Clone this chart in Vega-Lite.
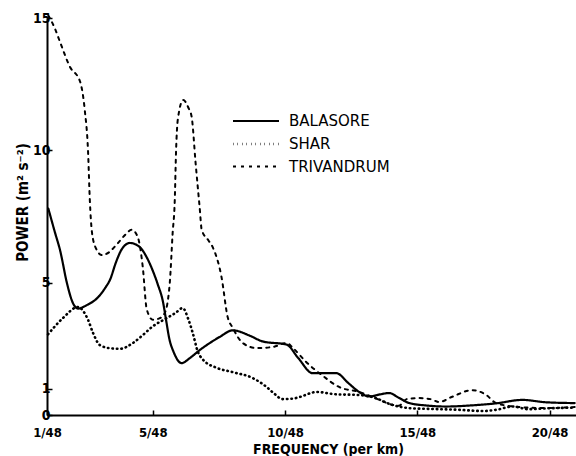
{
  "$schema": "https://vega.github.io/schema/vega-lite/v6.json",
  "width": 529,
  "height": 397,
  "autosize": "none",
  "padding": {"left": 47, "top": 18, "right": 0, "bottom": 41},
  "background": "white",
  "config": {
    "view": {"stroke": null},
    "font": "DejaVu Sans Condensed, DejaVu Sans",
    "axis": {"grid": false, "domainColor": "black", "domainWidth": 2, "tickColor": "black", "tickWidth": 1.5, "labelColor": "black", "titleColor": "black", "labelFont": "DejaVu Sans Condensed, DejaVu Sans", "titleFont": "DejaVu Sans Condensed, DejaVu Sans", "titleFontWeight": 600, "labelFontWeight": 600}
  },
  "data": {
    "values": [
      {"station": "BALASORE", "k": 1.05, "power": 7.8},
      {"station": "BALASORE", "k": 1.3, "power": 6.9},
      {"station": "BALASORE", "k": 1.5, "power": 6.2},
      {"station": "BALASORE", "k": 1.75, "power": 5.0},
      {"station": "BALASORE", "k": 1.95, "power": 4.3},
      {"station": "BALASORE", "k": 2.17, "power": 4.02},
      {"station": "BALASORE", "k": 2.5, "power": 4.15},
      {"station": "BALASORE", "k": 2.9, "power": 4.42},
      {"station": "BALASORE", "k": 3.2, "power": 4.8},
      {"station": "BALASORE", "k": 3.4, "power": 5.15},
      {"station": "BALASORE", "k": 3.6, "power": 5.75},
      {"station": "BALASORE", "k": 3.85, "power": 6.3},
      {"station": "BALASORE", "k": 4.13, "power": 6.5},
      {"station": "BALASORE", "k": 4.5, "power": 6.35},
      {"station": "BALASORE", "k": 4.8, "power": 5.9},
      {"station": "BALASORE", "k": 5.0, "power": 5.45},
      {"station": "BALASORE", "k": 5.2, "power": 4.9},
      {"station": "BALASORE", "k": 5.38, "power": 4.3},
      {"station": "BALASORE", "k": 5.5, "power": 3.6},
      {"station": "BALASORE", "k": 5.62, "power": 2.9},
      {"station": "BALASORE", "k": 5.8, "power": 2.35},
      {"station": "BALASORE", "k": 6.09, "power": 1.96},
      {"station": "BALASORE", "k": 6.4, "power": 2.15},
      {"station": "BALASORE", "k": 6.77, "power": 2.45},
      {"station": "BALASORE", "k": 7.2, "power": 2.75},
      {"station": "BALASORE", "k": 7.53, "power": 2.95},
      {"station": "BALASORE", "k": 8.02, "power": 3.2},
      {"station": "BALASORE", "k": 8.66, "power": 3.0},
      {"station": "BALASORE", "k": 9.15, "power": 2.78},
      {"station": "BALASORE", "k": 10.06, "power": 2.66},
      {"station": "BALASORE", "k": 10.5, "power": 2.15},
      {"station": "BALASORE", "k": 11.04, "power": 1.58},
      {"station": "BALASORE", "k": 11.94, "power": 1.58},
      {"station": "BALASORE", "k": 12.4, "power": 1.2},
      {"station": "BALASORE", "k": 12.8, "power": 0.87},
      {"station": "BALASORE", "k": 13.2, "power": 0.7},
      {"station": "BALASORE", "k": 13.6, "power": 0.78},
      {"station": "BALASORE", "k": 13.94, "power": 0.83},
      {"station": "BALASORE", "k": 14.3, "power": 0.65},
      {"station": "BALASORE", "k": 14.7, "power": 0.45},
      {"station": "BALASORE", "k": 15.34, "power": 0.36},
      {"station": "BALASORE", "k": 16.1, "power": 0.32},
      {"station": "BALASORE", "k": 17.0, "power": 0.36},
      {"station": "BALASORE", "k": 17.98, "power": 0.44},
      {"station": "BALASORE", "k": 18.97, "power": 0.57},
      {"station": "BALASORE", "k": 19.87, "power": 0.48},
      {"station": "BALASORE", "k": 20.95, "power": 0.45},

      {"station": "SHAR", "k": 1.04, "power": 3.05},
      {"station": "SHAR", "k": 1.6, "power": 3.66},
      {"station": "SHAR", "k": 2.17, "power": 4.08},
      {"station": "SHAR", "k": 2.55, "power": 3.6},
      {"station": "SHAR", "k": 2.74, "power": 3.1},
      {"station": "SHAR", "k": 3.0, "power": 2.64},
      {"station": "SHAR", "k": 3.4, "power": 2.52},
      {"station": "SHAR", "k": 3.75, "power": 2.5},
      {"station": "SHAR", "k": 4.25, "power": 2.72},
      {"station": "SHAR", "k": 4.6, "power": 3.0},
      {"station": "SHAR", "k": 5.0, "power": 3.35},
      {"station": "SHAR", "k": 5.53, "power": 3.66},
      {"station": "SHAR", "k": 5.85, "power": 3.85},
      {"station": "SHAR", "k": 6.13, "power": 4.04},
      {"station": "SHAR", "k": 6.35, "power": 3.6},
      {"station": "SHAR", "k": 6.51, "power": 3.1},
      {"station": "SHAR", "k": 6.7, "power": 2.4},
      {"station": "SHAR", "k": 6.89, "power": 2.1},
      {"station": "SHAR", "k": 7.42, "power": 1.78},
      {"station": "SHAR", "k": 8.02, "power": 1.62},
      {"station": "SHAR", "k": 8.77, "power": 1.4},
      {"station": "SHAR", "k": 9.3, "power": 1.06},
      {"station": "SHAR", "k": 9.6, "power": 0.8},
      {"station": "SHAR", "k": 9.9, "power": 0.6},
      {"station": "SHAR", "k": 10.3, "power": 0.62},
      {"station": "SHAR", "k": 10.55, "power": 0.68},
      {"station": "SHAR", "k": 11.19, "power": 0.87},
      {"station": "SHAR", "k": 11.94, "power": 0.78},
      {"station": "SHAR", "k": 12.7, "power": 0.76},
      {"station": "SHAR", "k": 13.3, "power": 0.68},
      {"station": "SHAR", "k": 14.06, "power": 0.38},
      {"station": "SHAR", "k": 14.8, "power": 0.25},
      {"station": "SHAR", "k": 15.5, "power": 0.23},
      {"station": "SHAR", "k": 16.5, "power": 0.2},
      {"station": "SHAR", "k": 17.5, "power": 0.15},
      {"station": "SHAR", "k": 18.0, "power": 0.2},
      {"station": "SHAR", "k": 18.6, "power": 0.32},
      {"station": "SHAR", "k": 19.2, "power": 0.22},
      {"station": "SHAR", "k": 19.9, "power": 0.25},
      {"station": "SHAR", "k": 20.95, "power": 0.28},

      {"station": "TRIVANDRUM", "k": 1.05, "power": 15.1},
      {"station": "TRIVANDRUM", "k": 1.3, "power": 14.6},
      {"station": "TRIVANDRUM", "k": 1.49, "power": 14.1},
      {"station": "TRIVANDRUM", "k": 1.87, "power": 13.15},
      {"station": "TRIVANDRUM", "k": 2.25, "power": 12.6},
      {"station": "TRIVANDRUM", "k": 2.43, "power": 11.5},
      {"station": "TRIVANDRUM", "k": 2.55, "power": 10.0},
      {"station": "TRIVANDRUM", "k": 2.62, "power": 8.1},
      {"station": "TRIVANDRUM", "k": 2.7, "power": 6.9},
      {"station": "TRIVANDRUM", "k": 2.85, "power": 6.3},
      {"station": "TRIVANDRUM", "k": 3.08, "power": 6.04},
      {"station": "TRIVANDRUM", "k": 3.35, "power": 6.15},
      {"station": "TRIVANDRUM", "k": 3.64, "power": 6.45},
      {"station": "TRIVANDRUM", "k": 4.0, "power": 6.85},
      {"station": "TRIVANDRUM", "k": 4.2, "power": 7.0},
      {"station": "TRIVANDRUM", "k": 4.43, "power": 6.73},
      {"station": "TRIVANDRUM", "k": 4.62, "power": 5.6},
      {"station": "TRIVANDRUM", "k": 4.77, "power": 4.0},
      {"station": "TRIVANDRUM", "k": 5.0, "power": 3.6},
      {"station": "TRIVANDRUM", "k": 5.25, "power": 3.65},
      {"station": "TRIVANDRUM", "k": 5.45, "power": 3.85},
      {"station": "TRIVANDRUM", "k": 5.64, "power": 4.97},
      {"station": "TRIVANDRUM", "k": 5.75, "power": 6.87},
      {"station": "TRIVANDRUM", "k": 5.83, "power": 8.1},
      {"station": "TRIVANDRUM", "k": 5.88, "power": 10.0},
      {"station": "TRIVANDRUM", "k": 5.95, "power": 11.2},
      {"station": "TRIVANDRUM", "k": 6.15, "power": 11.9},
      {"station": "TRIVANDRUM", "k": 6.35, "power": 11.6},
      {"station": "TRIVANDRUM", "k": 6.47, "power": 11.26},
      {"station": "TRIVANDRUM", "k": 6.62, "power": 9.5},
      {"station": "TRIVANDRUM", "k": 6.77, "power": 7.86},
      {"station": "TRIVANDRUM", "k": 6.85, "power": 6.99},
      {"station": "TRIVANDRUM", "k": 7.1, "power": 6.6},
      {"station": "TRIVANDRUM", "k": 7.26, "power": 6.35},
      {"station": "TRIVANDRUM", "k": 7.6, "power": 5.2},
      {"station": "TRIVANDRUM", "k": 7.83, "power": 3.7},
      {"station": "TRIVANDRUM", "k": 8.02, "power": 3.3},
      {"station": "TRIVANDRUM", "k": 8.4, "power": 2.72},
      {"station": "TRIVANDRUM", "k": 8.92, "power": 2.53},
      {"station": "TRIVANDRUM", "k": 9.53, "power": 2.57},
      {"station": "TRIVANDRUM", "k": 10.06, "power": 2.72},
      {"station": "TRIVANDRUM", "k": 10.3, "power": 2.53},
      {"station": "TRIVANDRUM", "k": 10.8, "power": 2.0},
      {"station": "TRIVANDRUM", "k": 11.4, "power": 1.5},
      {"station": "TRIVANDRUM", "k": 12.06, "power": 1.05},
      {"station": "TRIVANDRUM", "k": 12.8, "power": 0.87},
      {"station": "TRIVANDRUM", "k": 13.57, "power": 0.57},
      {"station": "TRIVANDRUM", "k": 14.0, "power": 0.4},
      {"station": "TRIVANDRUM", "k": 14.3, "power": 0.35},
      {"station": "TRIVANDRUM", "k": 14.6, "power": 0.6},
      {"station": "TRIVANDRUM", "k": 15.07, "power": 0.64},
      {"station": "TRIVANDRUM", "k": 15.5, "power": 0.6},
      {"station": "TRIVANDRUM", "k": 15.83, "power": 0.49},
      {"station": "TRIVANDRUM", "k": 16.3, "power": 0.68},
      {"station": "TRIVANDRUM", "k": 17.08, "power": 0.94},
      {"station": "TRIVANDRUM", "k": 17.6, "power": 0.76},
      {"station": "TRIVANDRUM", "k": 17.98, "power": 0.45},
      {"station": "TRIVANDRUM", "k": 18.85, "power": 0.3},
      {"station": "TRIVANDRUM", "k": 19.9, "power": 0.26},
      {"station": "TRIVANDRUM", "k": 20.95, "power": 0.3}
    ]
  },
  "mark": {"type": "line", "interpolate": "monotone", "color": "black", "strokeCap": "round", "clip": false},
  "encoding": {
    "x": {
      "field": "k",
      "type": "quantitative",
      "scale": {"domain": [1, 21], "nice": false, "zero": false},
      "axis": {
        "values": [1, 5, 10, 15, 20],
        "labelExpr": "datum.value + '/48'",
        "tickSize": -5,
        "labelPadding": 16,
        "labelFontSize": 13,
        "labelFlush": false,
        "title": "FREQUENCY (per km)",
        "titleFontSize": 14,
        "titleX": 281,
        "titleY": 38,
        "titleAnchor": null,
        "titleAlign": "center",
        "titleBaseline": "alphabetic"
      }
    },
    "y": {
      "field": "power",
      "type": "quantitative",
      "scale": {"domain": [0, 15], "nice": false},
      "axis": {
        "values": [0, 1, 5, 10, 15],
        "tickSize": -5,
        "labelPadding": 2,
        "labelFontSize": 14,
        "title": "POWER (m² s⁻²)",
        "titleFontSize": 15,
        "titleX": -20,
        "titleY": 184,
        "titleAngle": -90,
        "titleAlign": "center",
        "titleBaseline": "alphabetic"
      }
    },
    "strokeWidth": {
      "field": "station",
      "type": "nominal",
      "scale": {"type": "ordinal", "domain": ["BALASORE", "SHAR", "TRIVANDRUM"], "range": [2.2, 2.6, 2]},
      "legend": null
    },
    "strokeDash": {
      "field": "station",
      "type": "nominal",
      "scale": {"domain": ["BALASORE", "SHAR", "TRIVANDRUM"], "range": [[1, 0], [0.5, 4], [3, 5]]},
      "legend": {
        "title": null,
        "orient": "none",
        "legendX": 196,
        "legendY": 90,
        "rowPadding": 2,
        "symbolType": "M-2,0H2",
        "symbolSize": 529,
        "symbolStrokeWidth": 2,
        "symbolStrokeColor": "black",
        "symbolFillColor": "transparent",
        "labelFontSize": 15,
        "labelColor": "black",
        "labelOffset": 20,
        "labelFont": "DejaVu Sans",
        "labelFontWeight": 500
      }
    }
  }
}
